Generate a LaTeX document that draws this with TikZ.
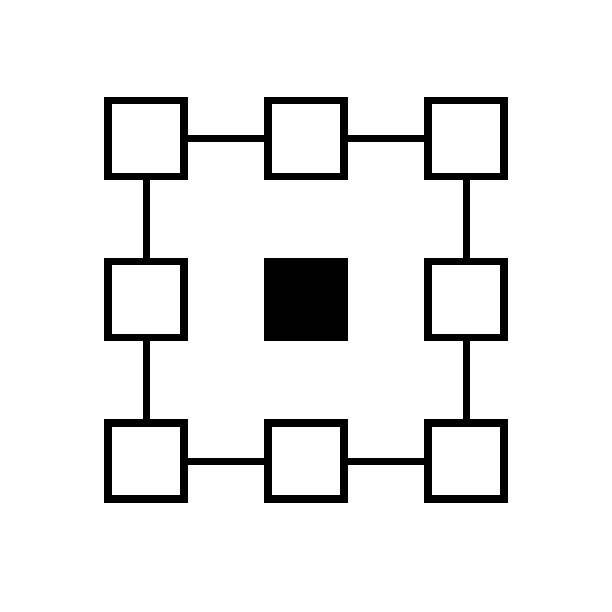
\documentclass[tikz,border=0pt]{standalone}
\begin{document}
\begin{tikzpicture}[x=1pt,y=-1pt,
  box/.style={draw=black,line width=7.3pt,minimum size=76pt,inner sep=0pt,outer sep=0pt,rectangle,fill=white},
  filledbox/.style={box,fill=black},
  link/.style={draw=black,line width=7pt}]
\useasboundingbox (0,0) rectangle (612,612);
\fill[white] (0,0) rectangle (612,612);
\node[box] (tl) at (146,138.5) {};
\node[box] (tm) at (306,138.5) {};
\node[box] (tr) at (466,138.5) {};
\node[box] (ml) at (146,299.7) {};
\node[filledbox] (mm) at (306,299.7) {};
\node[box] (mr) at (466,299.7) {};
\node[box] (bl) at (146,461) {};
\node[box] (bm) at (306,461) {};
\node[box] (br) at (466,461) {};
\draw[link] (tl) -- (tm);
\draw[link] (tm) -- (tr);
\draw[link] (bl) -- (bm);
\draw[link] (bm) -- (br);
\draw[link] (tl) -- (ml);
\draw[link] (ml) -- (bl);
\draw[link] (tr) -- (mr);
\draw[link] (mr) -- (br);
\end{tikzpicture}
\end{document}
